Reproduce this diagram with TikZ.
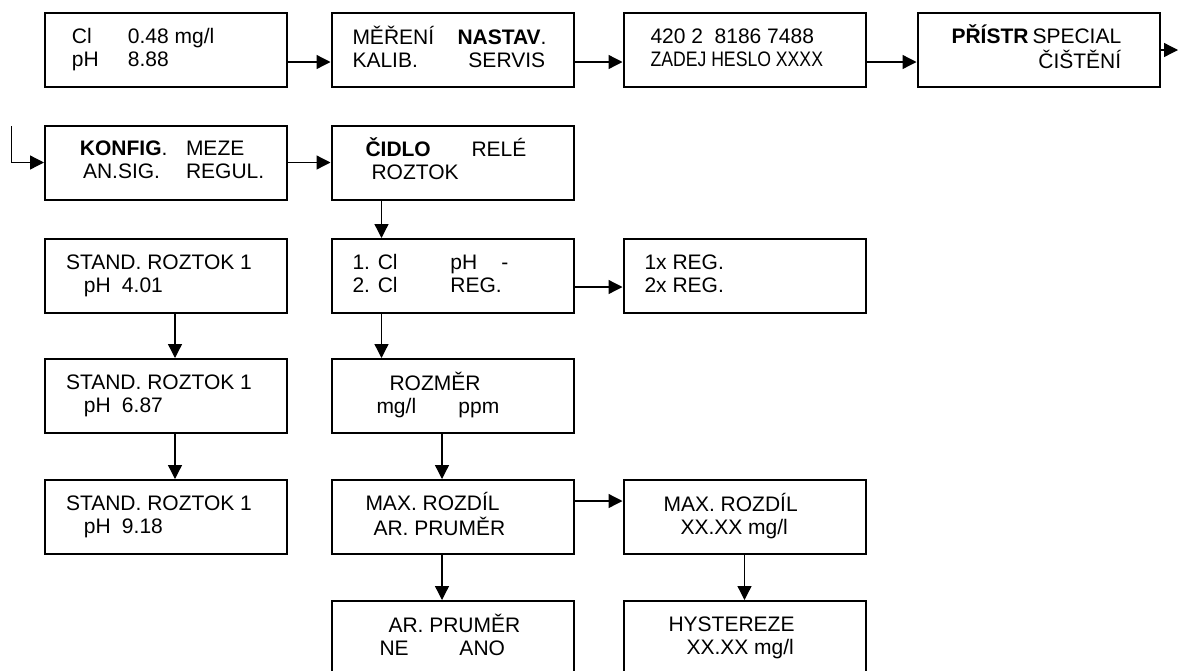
\documentclass[tikz,border=0pt]{standalone}
\usepackage{fontspec}
\setmainfont{Liberation Sans}
\newfontfamily\narrowfont[FakeStretch=0.84]{Liberation Sans}
\usetikzlibrary{arrows.meta}
\newcommand{\scr}[2]{\makebox[242pt][l]{\hspace*{#1pt}#2}}
\begin{document}
\begin{tikzpicture}[x=1pt,y=-1pt,
    box/.style={draw,line width=2pt,minimum width=242pt,minimum height=74pt,inner sep=0pt,font=\fontsize{21}{23}\selectfont},
    arr/.style={line width=1.3pt,-{Triangle[length=14pt,width=14pt]}}]
                \useasboundingbox (0,0) rectangle (1178,670);
                \node[box](disp) at (166,50) {\scr{27}{\begin{tabular}{@{}p{56pt}@{}l@{}}Cl&0.48 mg/l\\pH&8.88\end{tabular}}};
                \node[box](menu) at (452.5,50) {\scr{21}{\begin{tabular}{@{}p{105pt}@{}l@{}}MĚŘENÍ&\textbf{NASTAV}.\\KALIB.&\hspace*{11pt}SERVIS\end{tabular}}};
                \node[box](pass) at (744.5,50) {\scr{27}{\begin{tabular}{@{}l@{}}420 2\ \ 8186 7488\\{\narrowfont ZADEJ HESLO XXXX}\end{tabular}}};
                \node[box](instr) at (1038.5,50) {\scr{34}{\begin{tabular}{@{}p{81pt}@{}r@{}}\textbf{PŘÍSTR}&SPECIAL\\&ČIŠTĚNÍ\end{tabular}}};
                \node[box](conf) at (166,162.5) {\scr{35}{\begin{tabular}{@{}p{106pt}@{}l@{}}\textbf{KONFIG}.&MEZE\\\hspace*{3pt}AN.SIG.&REGUL.\end{tabular}}};
                \node[box](sens) at (452.5,162.5) {\scr{34}{\begin{tabular}{@{}p{106pt}@{}l@{}}\textbf{ČIDLO}&RELÉ\\\hspace*{6pt}ROZTOK&\end{tabular}}};
                \node[box](std1) at (166,276) {\scr{21}{\begin{tabular}{@{}l@{}}STAND. ROZTOK 1\\\hspace*{18pt}\makebox[38pt][l]{pH}4.01\end{tabular}}};
                \node[box](std2) at (166,396) {\scr{21}{\begin{tabular}{@{}l@{}}STAND. ROZTOK 1\\\hspace*{18pt}\makebox[38pt][l]{pH}6.87\end{tabular}}};
                \node[box](std3) at (166,517) {\scr{21}{\begin{tabular}{@{}l@{}}STAND. ROZTOK 1\\\hspace*{18pt}\makebox[38pt][l]{pH}9.18\end{tabular}}};
                \node[box](chan) at (452.5,276) {\scr{21}{\begin{tabular}{@{}p{98pt}@{}l@{}}1. Cl&pH\hspace*{24pt}-\\2. Cl&REG.\end{tabular}}};
                \node[box](reg) at (744.5,276) {\scr{21}{\begin{tabular}{@{}l@{}}1x REG.\\2x REG.\end{tabular}}};
                \node[box](unit) at (452.5,396) {\scr{45}{\begin{tabular}{@{}l@{}}\hspace*{13pt}ROZMĚR\\\makebox[82pt][l]{mg/l}ppm\end{tabular}}};
                \node[box](diff) at (452.5,517) {\scr{34}{\begin{tabular}{@{}l@{}}MAX. ROZDÍL\\\hspace*{8pt}AR. PRUMĚR\end{tabular}}};
                \node[box](maxd) at (744.5,517) {\scr{40}{\begin{tabular}{@{}l@{}}MAX. ROZDÍL\\\hspace*{17pt}XX.XX mg/l\end{tabular}}};
                \node[box](avg) at (452.5,638) {\scr{48}{\begin{tabular}{@{}l@{}}\hspace*{9pt}AR. PRUMĚR\\\makebox[80pt][l]{NE}ANO\end{tabular}}};
                \node[box](hyst) at (744.5,638) {\scr{45}{\begin{tabular}{@{}l@{}}HYSTEREZE\\\hspace*{18pt}XX.XX mg/l\end{tabular}}};
                \coordinate (in) at (11.5,126);
                \coordinate (out) at (1178,50);
                \draw[arr]([yshift=-12pt]disp.east) -- ([yshift=-12pt]menu.west);
                \draw[arr]([yshift=-12pt]menu.east) -- ([yshift=-12pt]pass.west);
                \draw[arr]([yshift=-12pt]pass.east) -- ([yshift=-12pt]instr.west);
                \draw[arr](instr) -- (out);
                \draw[arr](in) |- (conf.west);
                \draw[arr](conf) -- (sens);
                \draw[arr]([xshift=-71pt]sens.south) -- ([xshift=-71pt]chan.north);
                \draw[arr]([yshift=-11pt]chan.east) -- ([yshift=-11pt]reg.west);
                \draw[arr]([xshift=-71pt]chan.south) -- ([xshift=-71pt]unit.north);
                \draw[arr]([xshift=-10.5pt]unit.south) -- ([xshift=-10.5pt]diff.north);
                \draw[arr]([yshift=16pt]diff.east) -- ([yshift=16pt]maxd.west);
                \draw[arr]([xshift=-10.5pt]diff.south) -- ([xshift=-10.5pt]avg.north);
                \draw[arr](maxd) -- (hyst);
                \draw[arr]([xshift=9pt]std1.south) -- ([xshift=9pt]std2.north);
                \draw[arr]([xshift=9pt]std2.south) -- ([xshift=9pt]std3.north);
            \end{tikzpicture}
\end{document}
